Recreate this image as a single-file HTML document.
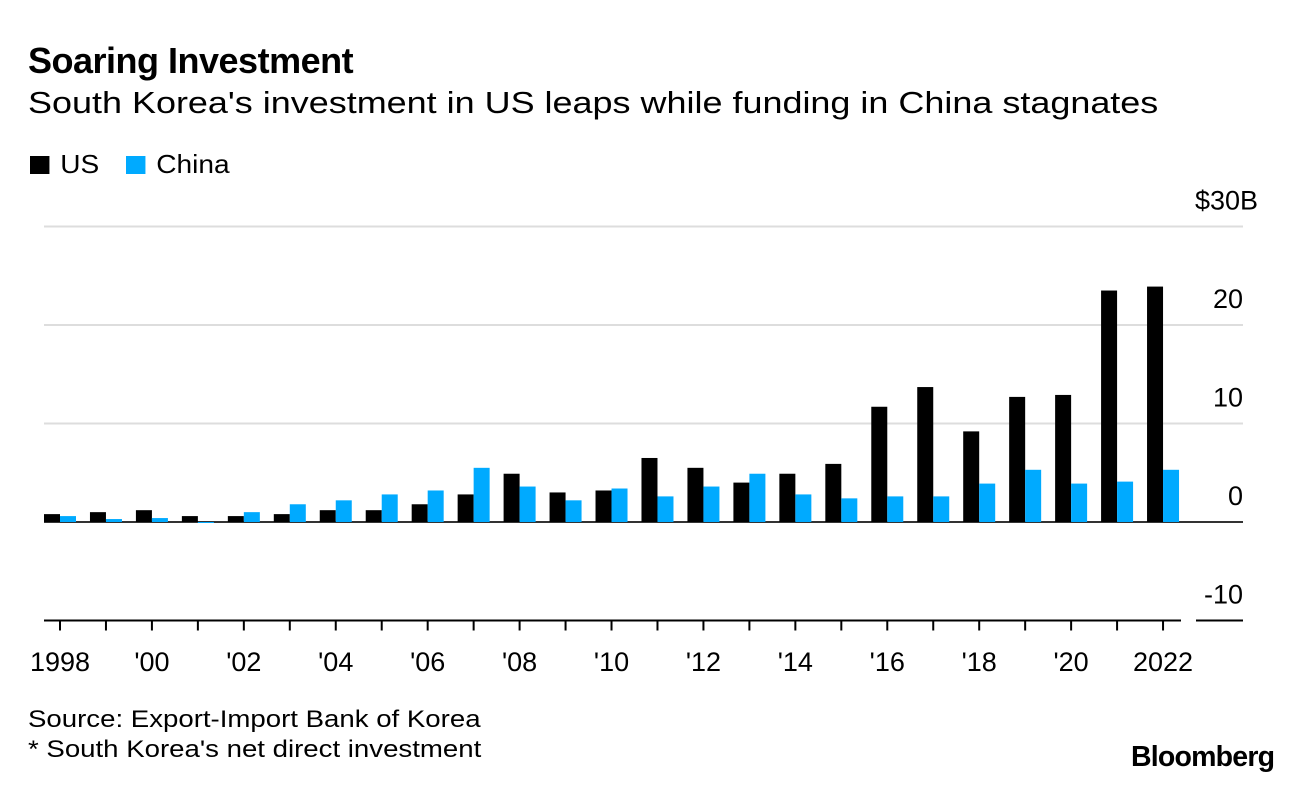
<!DOCTYPE html>
<html><head><meta charset="utf-8"><style>
body{margin:0;background:#fff;font-family:"Liberation Sans",sans-serif;}
#wrap{position:relative;width:1296px;height:790px;overflow:hidden;}
.t{position:absolute;white-space:nowrap;color:#000;transform-origin:left top;}
</style></head><body><div id="wrap">
<div class="t" style="left:28px;top:40px;font-size:36px;font-weight:bold;letter-spacing:-0.5px">Soaring Investment</div>
<div class="t" style="left:28px;top:85px;font-size:31px;transform:scaleX(1.16)">South Korea's investment in US leaps while funding in China stagnates</div>
<div class="t" style="left:30px;top:149px;font-size:26px;transform:scaleX(1.08)"><span style="display:inline-block;width:18px;height:18px;background:#000;margin-right:10px;vertical-align:-1px"></span>US</div>
<div class="t" style="left:126px;top:149px;font-size:26px;transform:scaleX(1.08)"><span style="display:inline-block;width:18px;height:18px;background:#00aaff;margin-right:10px;vertical-align:-1px"></span>China</div>
<svg id="chart" width="1296" height="790" style="position:absolute;left:0;top:0"></svg>
<div class="t" style="left:28px;top:706px;font-size:24px;transform:scaleX(1.15)">Source: Export-Import Bank of Korea</div>
<div class="t" style="left:28px;top:736px;font-size:24px;transform:scaleX(1.15)">* South Korea's net direct investment</div>
<div class="t" style="left:1131px;top:741px;font-size:28.5px;font-weight:bold;letter-spacing:-0.8px">Bloomberg</div>
</div>
<script>
const years=[1998,1999,2000,2001,2002,2003,2004,2005,2006,2007,2008,2009,2010,2011,2012,2013,2014,2015,2016,2017,2018,2019,2020,2021,2022];
const usValues=[0.8,1.0,1.2,0.6,0.6,0.8,1.2,1.2,1.8,2.8,4.9,3.0,3.2,6.5,5.5,4.0,4.9,5.9,11.7,13.7,9.2,12.7,12.9,23.5,23.9];
const chinaValues=[0.6,0.3,0.4,-0.1,1.0,1.8,2.2,2.8,3.2,5.5,3.6,2.2,3.4,2.6,3.6,4.9,2.8,2.4,2.6,2.6,3.9,5.3,3.9,4.1,5.3];
const yTicks=[30,20,10,0,-10];
const yTickLabels=["$30B","20","10","0","-10"];
const xTickLabels=["1998","'00","'02","'04","'06","'08","'10","'12","'14","'16","'18","'20","2022"];
const svg=document.getElementById('chart');const NS='http://www.w3.org/2000/svg';
const y=v=>522-v*9.85;
const x=yr=>60+(yr-1998)*45.96;
function mk(tag,attrs){const e=document.createElementNS(NS,tag);for(const k in attrs)e.setAttribute(k,attrs[k]);svg.appendChild(e);return e;}
yTicks.forEach((v,i)=>{
  if(v===-10){
    let l=mk('line',{x1:44,x2:1181,y1:y(v),y2:y(v),stroke:'#000','stroke-width':2});
    
    let l2=mk('line',{x1:1196,x2:1243,y1:y(v),y2:y(v),stroke:'#000','stroke-width':2});
    
  } else {
    let l=mk('line',{x1:44,x2:1243,y1:y(v),y2:y(v),stroke:v===0?'#333':'#ddd','stroke-width':2});
    
  }
  const first=i===0;
  let t=mk('text',{x:first?1195:1243,y:y(v)-17,'text-anchor':first?'start':'end','font-size':27,'font-family':'Liberation Sans, sans-serif'});
  t.textContent=yTickLabels[i];
  
});
years.forEach((yr,i)=>{
  const cx=x(yr);
  let u=usValues[i],c=chinaValues[i];
  let b=mk('rect',{x:cx-16,y:Math.min(y(u),y(0)),width:16,height:Math.abs(y(u)-y(0)),fill:'#000'});
  
  let b2=mk('rect',{x:cx,y:Math.min(y(c),y(0)),width:16,height:Math.abs(y(c)-y(0)),fill:'#00aaff'});
  
  let tk=mk('line',{x1:cx,x2:cx,y1:y(-10),y2:y(-10)+10,stroke:'#000','stroke-width':2});
  
});
xTickLabels.forEach((s,i)=>{
  let t=mk('text',{x:x(1998+i*2),y:671,'text-anchor':'middle','font-size':27,'font-family':'Liberation Sans, sans-serif'});
  t.textContent=s;
  
});
</script></body></html>
